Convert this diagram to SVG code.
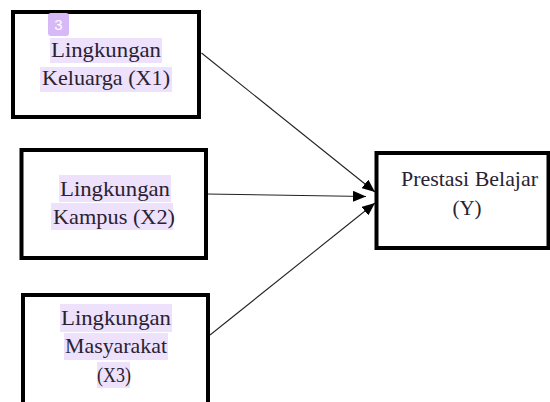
<svg xmlns="http://www.w3.org/2000/svg" width="550" height="402" viewBox="0 0 550 402">
<style>
.box{fill:#fff;stroke:#000;stroke-width:4}
.hl{fill:#ede1fc}
.t{font-size:21px;fill:#2a2230;text-anchor:middle}
.edge{stroke:#222;stroke-width:1.1;fill:none;marker-end:url(#ah)}
.badge{fill:#d7b9f7}
.bt{font-size:15px;fill:#fff;text-anchor:middle}
</style>
<defs>
<marker id="ah" markerUnits="userSpaceOnUse" markerWidth="13" markerHeight="11" refX="13" refY="5.5" orient="auto">
<path d="M0,0 L13,5.5 L0,11 z" fill="#000"/>
</marker>
</defs>
<rect width="550" height="402" fill="#fff"/>
<g id="connectors">
<line class="edge" x1="201.5" y1="53" x2="375" y2="192"/>
<line class="edge" x1="206" y1="194" x2="366" y2="196.5"/>
<line class="edge" x1="210" y1="335" x2="375" y2="203"/>
</g>
<g font-family="'Liberation Serif', 'Times New Roman', serif">
<g id="x1">
<rect class="box" x="13" y="12" width="186" height="105"/>
<rect class="hl" x="50" y="38" width="112" height="25"/>
<rect class="hl" x="40" y="67" width="132" height="25"/>
<rect class="badge" x="48" y="13" width="21" height="23" rx="3"/>
<text class="bt" x="58.5" y="30" font-family="'Liberation Sans', Arial, sans-serif">3</text>
<text class="t" x="106" y="57" textLength="110" lengthAdjust="spacingAndGlyphs">Lingkungan</text>
<text class="t" x="106" y="85" textLength="128" lengthAdjust="spacingAndGlyphs">Keluarga (X1)</text>
</g>
<g id="x2">
<rect class="box" x="21.5" y="150" width="184.5" height="108"/>
<rect class="hl" x="59" y="175" width="112" height="27"/>
<rect class="hl" x="51" y="203" width="122" height="27"/>
<text class="t" x="115" y="196" textLength="110" lengthAdjust="spacingAndGlyphs">Lingkungan</text>
<text class="t" x="114" y="224" textLength="122" lengthAdjust="spacingAndGlyphs">Kampus (X2)</text>
</g>
<g id="x3">
<rect class="box" x="23" y="295" width="185" height="130"/>
<rect class="hl" x="60" y="304" width="112" height="28"/>
<rect class="hl" x="64" y="333" width="104" height="27"/>
<rect class="hl" x="97" y="362" width="33" height="26"/>
<text class="t" x="116" y="325" textLength="110" lengthAdjust="spacingAndGlyphs">Lingkungan</text>
<text class="t" x="116" y="353" textLength="102" lengthAdjust="spacingAndGlyphs">Masyarakat</text>
<text class="t" x="114" y="382" textLength="34" lengthAdjust="spacingAndGlyphs">(X3)</text>
</g>
<g id="y">
<rect class="box" x="376.5" y="153" width="172" height="95"/>
<text class="t" x="469.5" y="186" textLength="137" lengthAdjust="spacingAndGlyphs">Prestasi Belajar</text>
<text class="t" x="467" y="215">(Y)</text>
</g>
</g>
</svg>
